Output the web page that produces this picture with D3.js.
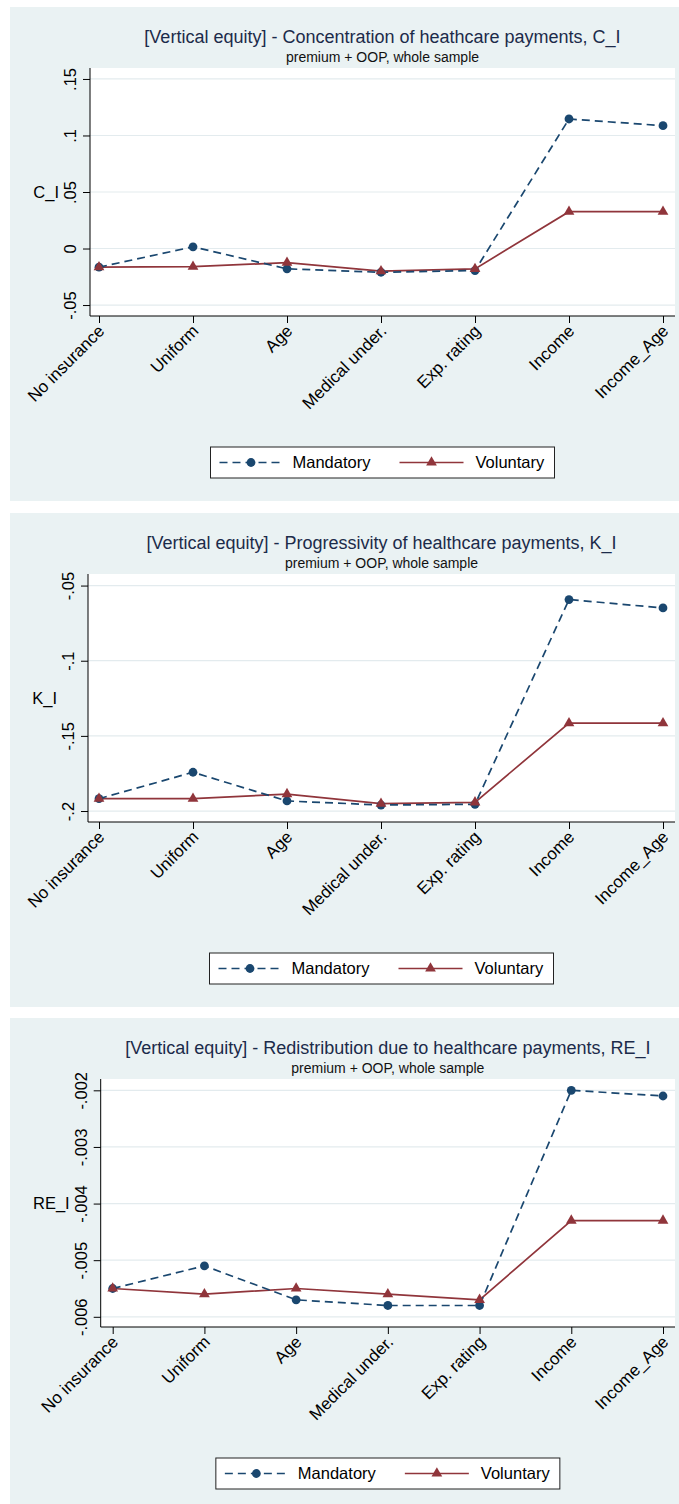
<!DOCTYPE html>
<meta charset="utf-8">
<style>
body { margin: 0; background: #fff; }
svg { display: block; font-family: "Liberation Sans", Arial, sans-serif; }
.grid line { stroke: #e3ebee; stroke-width: 1.2; }
.axis path, .axis line { stroke: #000; stroke-width: 1; }
</style>
<svg width="679" height="1504"></svg>
<script src="https://d3js.org/d3.v7.min.js"></script>
<script>

// categorias do eixo x
var categorias = ["No insurance", "Uniform", "Age", "Medical under.", "Exp. rating", "Income", "Income_Age"];

// C_I
var ciMandatory = [-0.0165, 0.0015, -0.018, -0.021, -0.0195, 0.1146, 0.1087];
var ciVoluntary = [-0.0165, -0.016, -0.0125, -0.020, -0.018, 0.0326, 0.0326];
var ciTicks = [0.15, 0.1, 0.05, 0, -0.05];
var ciTickLabels = [".15", ".1", ".05", "0", "-.05"];

// K_I
var kiMandatory = [-0.1918, -0.1742, -0.1933, -0.196, -0.1955, -0.0593, -0.0649];
var kiVoluntary = [-0.1918, -0.1918, -0.1887, -0.1951, -0.1942, -0.1415, -0.1415];
var kiTicks = [-0.05, -0.1, -0.15, -0.2];
var kiTickLabels = ["-.05", "-.1", "-.15", "-.2"];

// RE_I
var reMandatory = [-0.0055, -0.0051, -0.0057, -0.0058, -0.0058, -0.0020, -0.0021];
var reVoluntary = [-0.0055, -0.0056, -0.0055, -0.0056, -0.0057, -0.0043, -0.0043];
var reTicks = [-0.002, -0.003, -0.004, -0.005, -0.006];
var reTickLabels = ["-.002", "-.003", "-.004", "-.005", "-.006"];

var seriesNames = ["Mandatory", "Voluntary"];

var corMand = "#1a476f", corVol = "#90353b", corFundo = "#eaf2f3";

var svg = d3.select("svg");

var paineis = [
  {top: 7, title: "[Vertical equity] - Concentration of heathcare payments, C_I", ytitle: "C_I",
   mand: ciMandatory, vol: ciVoluntary, ticks: ciTicks, labels: ciTickLabels,
   domain: [-0.0597, 0.1597], left: 90, first: 99},
  {top: 513, title: "[Vertical equity] - Progressivity of healthcare payments, K_I", ytitle: "K_I",
   mand: kiMandatory, vol: kiVoluntary, ticks: kiTicks, labels: kiTickLabels,
   domain: [-0.2073, -0.0423], left: 88, first: 99},
  {top: 1018, title: "[Vertical equity] - Redistribution due to healthcare payments, RE_I", ytitle: "RE_I",
   mand: reMandatory, vol: reVoluntary, ticks: reTicks, labels: reTickLabels,
   domain: [-0.00618, -0.0018], left: 100.7, first: 112.7}
];

paineis.forEach(desenhaPainel);

function desenhaPainel(p) {
  var g = svg.append("g");
  var right = 675, last = 663;
  var ptop = p.top + 61, pbottom = p.top + 309;
  var cx = (p.left + right) / 2;

  // fundo do grafico
  g.append("rect").attr("x", 10).attr("y", p.top).attr("width", 680).attr("height", 494)
    .attr("fill", corFundo);
  g.append("rect").attr("x", p.left).attr("y", ptop).attr("width", right - p.left).attr("height", pbottom - ptop)
    .attr("fill", "#fff");

  var x = d3.scalePoint().domain(categorias).range([p.first, last]);
  var y = d3.scaleLinear().domain(p.domain).range([pbottom, ptop]);

  // titulos
  g.append("text").attr("x", cx).attr("y", p.top + 36).attr("text-anchor", "middle")
    .attr("font-size", 18).attr("fill", "#1c2b4a").text(p.title);
  g.append("text").attr("x", cx).attr("y", p.top + 55).attr("text-anchor", "middle")
    .attr("font-size", 14).attr("fill", "#111").text("premium + OOP, whole sample");

  // grade
  g.append("g").attr("class", "grid").selectAll("line").data(p.ticks).enter().append("line")
    .attr("x1", p.left).attr("x2", right).attr("y1", d => y(d)).attr("y2", d => y(d));

  // eixo y
  var yAxis = g.append("g").attr("class", "axis").attr("transform", "translate(" + p.left + ",0)")
    .call(d3.axisLeft(y).tickValues(p.ticks).tickSize(7).tickFormat((d, i) => p.labels[i]));
  yAxis.select(".domain").attr("d", "M0," + ptop + "V" + pbottom);
  yAxis.selectAll(".tick text")
    .attr("font-size", 16.5).attr("font-family", null).attr("fill", "#000")
    .attr("x", null).attr("dy", null).attr("text-anchor", "middle")
    .attr("transform", "translate(-14,0) rotate(-90)");

  g.append("text").attr("x", p.left - 31).attr("y", (ptop + pbottom) / 2).attr("dy", "0.35em")
    .attr("text-anchor", "end").attr("font-size", 16.5).text(p.ytitle);

  // eixo x
  var xAxis = g.append("g").attr("class", "axis").attr("transform", "translate(0," + pbottom + ")")
    .call(d3.axisBottom(x).tickSize(7));
  xAxis.select(".domain").attr("d", "M" + p.left + ",0H" + right);
  xAxis.selectAll(".tick text")
    .attr("font-size", 17).attr("font-family", null).attr("fill", "#000")
    .attr("y", null).attr("dy", null).attr("text-anchor", "end")
    .attr("transform", "translate(6,16) rotate(-45)");

  var linha = d3.line().x((d, i) => x(categorias[i])).y(d => y(d));

  // voluntary
  g.append("path").datum(p.vol).attr("d", linha).attr("fill", "none")
    .attr("stroke", corVol).attr("stroke-width", 1.7);
  // mandatory
  g.append("path").datum(p.mand).attr("d", linha).attr("fill", "none")
    .attr("stroke", corMand).attr("stroke-width", 1.7).attr("stroke-dasharray", "8,5");

  g.selectAll(".mand").data(p.mand).enter().append("circle")
    .attr("cx", (d, i) => x(categorias[i])).attr("cy", d => y(d)).attr("r", 4.4)
    .attr("fill", corMand);
  g.selectAll(".vol").data(p.vol).enter().append("path")
    .attr("d", d3.symbol(d3.symbolTriangle, 50))
    .attr("transform", (d, i) => "translate(" + x(categorias[i]) + "," + y(d) + ")")
    .attr("fill", corVol);

  // legenda
  var lw = 344, lh = 31, lx = cx - lw / 2, ly = p.top + 440;
  var leg = g.append("g").attr("transform", "translate(" + lx + "," + ly + ")");
  leg.append("rect").attr("width", lw).attr("height", lh).attr("fill", "#fff")
    .attr("stroke", "#222").attr("stroke-width", 1);
  var my = lh / 2;
  leg.append("line").attr("x1", 9).attr("x2", 72).attr("y1", my).attr("y2", my)
    .attr("stroke", corMand).attr("stroke-width", 1.7).attr("stroke-dasharray", "8,5");
  leg.append("circle").attr("cx", 40.5).attr("cy", my).attr("r", 4.4).attr("fill", corMand);
  leg.append("text").attr("x", 82).attr("y", my).attr("dy", "0.36em").attr("font-size", 16.5).text(seriesNames[0]);
  leg.append("line").attr("x1", 189).attr("x2", 253).attr("y1", my).attr("y2", my)
    .attr("stroke", corVol).attr("stroke-width", 1.7);
  leg.append("path").attr("d", d3.symbol(d3.symbolTriangle, 50))
    .attr("transform", "translate(221," + my + ")").attr("fill", corVol);
  leg.append("text").attr("x", 265).attr("y", my).attr("dy", "0.36em").attr("font-size", 16.5).text(seriesNames[1]);
}

</script>
